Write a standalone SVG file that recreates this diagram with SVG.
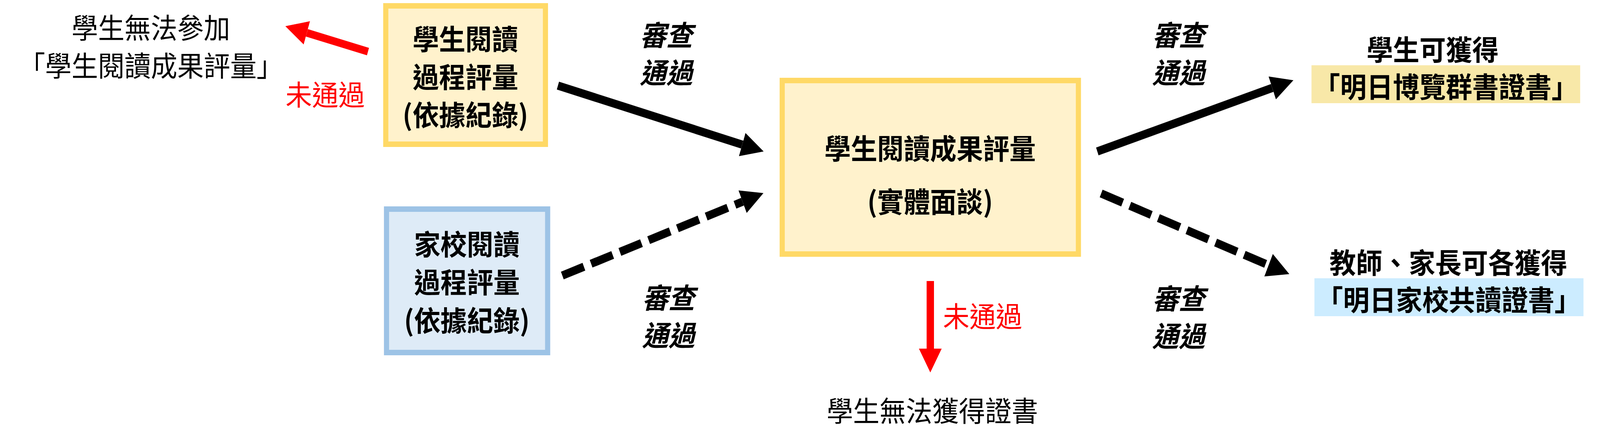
<svg xmlns="http://www.w3.org/2000/svg" width="4359" height="1136" viewBox="0 0 4359 1136" preserveAspectRatio="none">
<style>
:root{width:100vw;height:100vh;display:block}
text{font-family:"Noto Sans CJK TC","Noto Sans CJK SC",sans-serif;font-size:72px;text-anchor:middle;dominant-baseline:central;fill:#000}
.b{font-weight:bold}
.it{font-weight:bold;font-style:italic}
.red{fill:#FF0000}
.ybox{fill:#FFF2CC;stroke:#FFD966;stroke-width:14}
.bbox{fill:#DEEBF7;stroke:#9DC3E6;stroke-width:14}
.conn{fill:none;stroke-width:21;stroke-linecap:butt}
.k{stroke:#000}
.r{stroke:#FF0000;stroke-width:20}
.dash{stroke-dasharray:63 21}
</style>
<defs>
<marker id="hk" markerUnits="userSpaceOnUse" viewBox="0 -31 61 62" markerWidth="61" markerHeight="62" refX="0" refY="0" orient="auto">
<path d="M0,-31 L61,0 L0,31 Z" fill="#000"/>
</marker>
<marker id="hr" markerUnits="userSpaceOnUse" viewBox="0 -31 61 62" markerWidth="61" markerHeight="62" refX="0" refY="0" orient="auto">
<path d="M0,-31 L61,0 L0,31 Z" fill="#FF0000"/>
</marker>
</defs>
<rect width="4359" height="1136" fill="#FFFFFF"/>

<g id="connectors">
<line class="conn r" x1="1002.5" y1="132" x2="836" y2="84" marker-end="url(#hr)"/>
<line class="conn k" x1="1520" y1="219" x2="2022" y2="370" marker-end="url(#hk)"/>
<line class="conn k dash" x1="1532" y1="705" x2="2023" y2="516" marker-end="url(#hk)"/>
<line class="conn k" x1="2989.5" y1="387.5" x2="3466" y2="225" marker-end="url(#hk)"/>
<line class="conn k dash" x1="3000" y1="495" x2="3456" y2="678.5" marker-end="url(#hk)"/>
<line class="conn r" x1="2534.5" y1="719" x2="2534.5" y2="892" marker-end="url(#hr)"/>
</g>

<g id="node-process-student">
<rect class="ybox" x="1051" y="15" width="435" height="354"/>
<text class="b"><tspan x="1268" y="95">學生閱讀</tspan><tspan x="1268" y="192">過程評量</tspan><tspan x="1268" y="289">(依據紀錄)</tspan></text>
</g>

<g id="node-process-family">
<rect class="bbox" x="1053" y="535" width="439" height="367"/>
<text class="b"><tspan x="1272" y="620">家校閱讀</tspan><tspan x="1272" y="717">過程評量</tspan><tspan x="1272" y="815">(依據紀錄)</tspan></text>
</g>

<g id="node-outcome">
<rect class="ybox" x="2131" y="206" width="807" height="444"/>
<text class="b"><tspan x="2534" y="375">學生閱讀成果評量</tspan><tspan x="2534" y="511">(實體面談)</tspan></text>
</g>

<g id="node-no-join">
<text><tspan x="411" y="66">學生無法參加</tspan><tspan x="411" y="163">「學生閱讀成果評量」</tspan></text>
</g>

<g id="node-no-cert">
<text x="2540" y="1047">學生無法獲得證書</text>
</g>

<g id="node-student-cert">
<text class="b" x="3903" y="123">學生可獲得</text>
<rect x="3573" y="167" width="732" height="97" fill="#F8E8A8"/>
<text class="b" x="3939" y="218">「明日博覽群書證書」</text>
</g>

<g id="node-family-cert">
<text class="b" x="3946" y="668">教師、家長可各獲得</text>
<rect x="3581" y="712" width="733" height="97" fill="#CCECFF"/>
<text class="b" x="3947" y="763">「明日家校共讀證書」</text>
</g>

<g id="labels">
<text class="red" x="886" y="238">未通過</text>
<text class="red" x="2677" y="805">未通過</text>
<text class="it"><tspan x="1815" y="85">審查</tspan><tspan x="1815" y="181">通過</tspan></text>
<text class="it"><tspan x="1821" y="757">審查</tspan><tspan x="1821" y="853">通過</tspan></text>
<text class="it"><tspan x="3211" y="85">審查</tspan><tspan x="3211" y="181">通過</tspan></text>
<text class="it"><tspan x="3211" y="759">審查</tspan><tspan x="3211" y="855">通過</tspan></text>
</g>
</svg>
